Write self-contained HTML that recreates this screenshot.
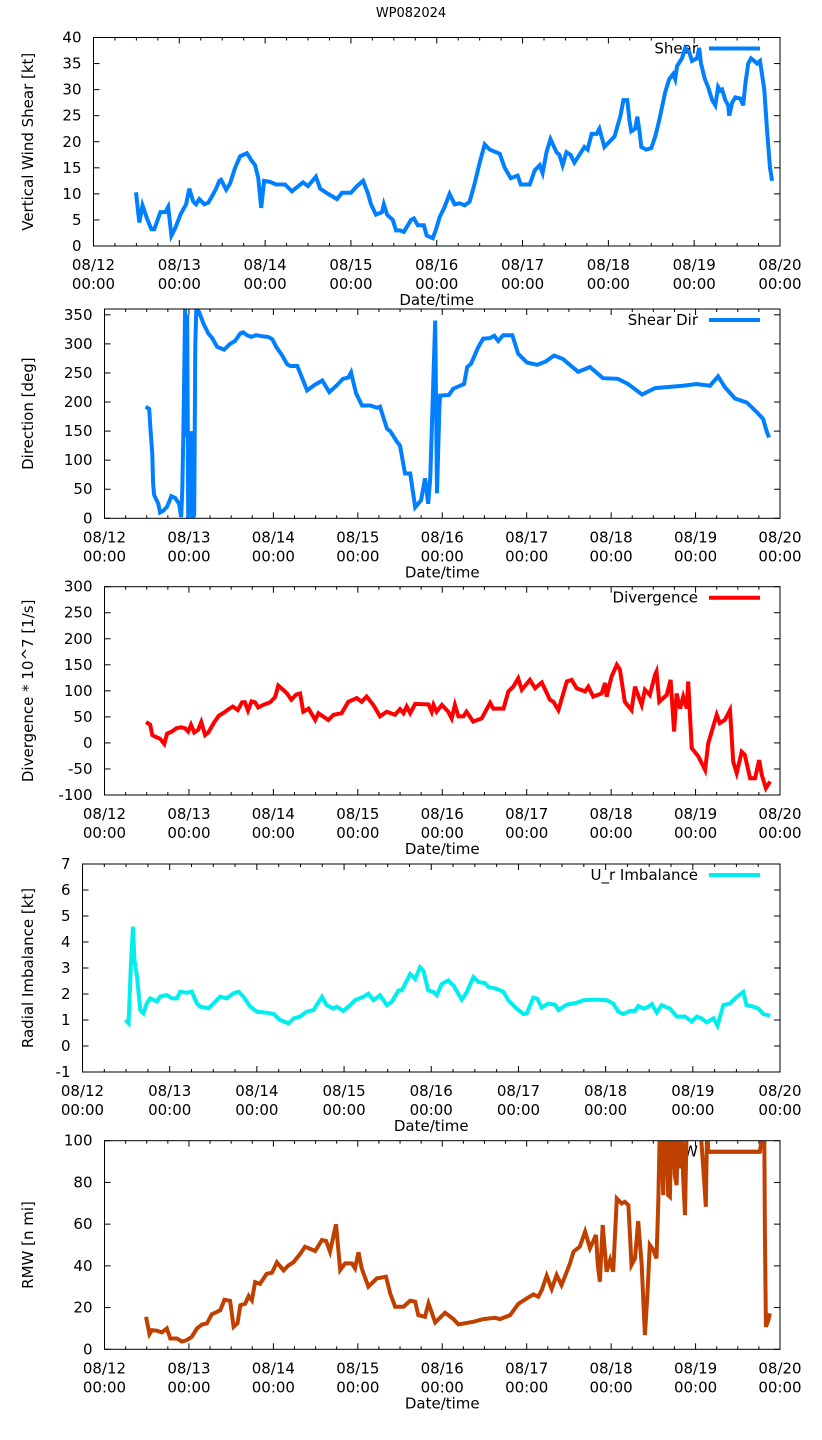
<!DOCTYPE html>
<html><head><meta charset="utf-8"><title>WP082024</title>
<style>
html,body{margin:0;padding:0;background:#fff;}
svg{display:block;font-family:"DejaVu Sans","Liberation Sans",sans-serif;}
</style></head>
<body>
<svg id="chart" width="822" height="1440" viewBox="0 0 822 1440" xmlns="http://www.w3.org/2000/svg">
<text x="411" y="17" text-anchor="middle" font-size="13" fill="#000">WP082024</text>
</svg>
<script>
// ---- shared x axis (hours since 08/12 00:00) ----
const xTickLabels = ["08/12","08/13","08/14","08/15","08/16","08/17","08/18","08/19","08/20"];

// ---- Panel 1: Shear ----
const shearHours = [11.9,12.8,13.7,15.1,16.2,17.0,18.7,20.1,20.9,21.8,22.9,24.3,25.9,26.8,27.9,28.7,29.6,31.0,32.1,33.5,34.3,35.2,35.7,37.1,38.2,39.6,41.0,42.9,44.1,45.2,46.1,46.9,47.7,49.4,51.1,53.6,55.5,58.6,60.0,62.2,63.4,65.6,68.1,69.5,72.0,73.7,75.4,76.8,77.6,79.0,80.7,81.2,82.1,82.9,83.7,84.6,85.7,86.8,88.8,89.6,90.7,92.4,93.2,94.9,95.7,96.8,98.2,99.6,101.0,102.4,103.8,105.2,106.6,108.0,109.4,110.8,113.6,115.0,116.7,118.6,119.5,122.0,123.4,124.8,125.6,126.7,127.8,129.5,130.3,131.2,132.3,133.4,134.5,135.9,137.3,138.2,139.3,140.7,141.5,142.9,144.3,145.7,147.4,148.2,149.3,149.9,150.4,151.5,152.1,152.7,153.2,154.6,156.0,157.1,158.2,158.8,159.9,161.0,162.1,162.7,163.2,164.6,165.5,166.6,167.4,168.8,169.4,169.9,171.0,171.9,173.0,173.9,174.7,175.3,175.8,176.7,177.5,177.8,178.6,179.5,180.9,181.7,182.3,183.1,183.9,184.8,185.6,186.4,187.6,188.4,189.2,189.8];
const shearValues = [10.3,4.5,7.8,5,3.2,3.2,6.5,6.5,7.5,2,3.5,6,8,11,8.5,8,9,8,8.3,10,11,12.5,12.7,10.8,12,15,17.2,17.8,16.5,15.5,13,7.3,12.5,12.3,11.8,11.8,10.5,12.2,11.5,13.3,11,10,9,10.2,10.2,11.5,12.5,10,8,6,6.5,8,6,5.5,5,3,3,2.7,5,5.3,4,4,2,1.5,3,5.5,7.5,10,8,8.2,7.8,8.5,12,16,19.5,18.5,17.7,15,13,13.5,11.8,11.8,14.5,15.5,14,18,20.5,18,17.5,15.5,18,17.5,16,17.5,19,18.5,21.5,21.5,22.5,19,20,21,25,28,28,24,22,22.5,24.8,22,19,18.5,18.8,21,24,26,29.5,32,33,32,34.5,36,38,37.2,35.5,36,38,35,32,30.5,28,27,30.5,29.8,30,28,27,25,27.5,28.5,28.3,27,31,35,36,35.5,35,35.5,30,22,15,12.5];
const shearTicks = [0,5,10,15,20,25,30,35,40];

// ---- Panel 2: Shear direction ----
const dirHours = [11.7,12.7,13.1,13.6,13.8,14.1,15.3,15.8,16.7,17.8,19.0,20.1,21.2,21.8,22.1,22.4,22.6,22.9,23.2,23.5,23.8,24.4,24.6,24.9,25.5,25.8,26.1,26.9,28.1,29.5,30.6,32.0,34.0,35.7,37.1,38.6,39.4,40.5,41.7,43.1,44.8,46.5,47.7,48.8,50.5,51.9,52.8,54.8,55.6,57.6,59.9,61.9,63.9,65.9,67.8,69.3,70.1,70.7,71.5,73.2,75.5,77.5,78.3,80.3,81.2,83.2,84.0,85.4,86.9,88.3,90.0,91.1,92.0,92.6,94.0,94.5,95.2,95.4,97.9,99.1,101.1,102.2,103.1,104.2,106.2,107.6,109.6,110.8,111.9,113.3,115.9,117.6,120.1,123.0,125.5,127.8,130.3,134.6,138.0,141.7,145.9,148.8,152.8,156.5,164.5,168.2,172.1,174.4,176.4,179.2,182.6,185.5,187.2,188.3,188.9];
const dirValues = [192,188,150,110,60,40,25,10,13,20,38,35,25,2,50,140,220,360,140,350,5,8,150,0,5,300,360,355,335,318,310,295,290,300,305,318,320,315,312,315,313,312,308,295,280,265,262,262,250,220,230,237,217,228,240,242,251,235,215,194,194,190,192,154,150,131,125,77,77,19,31,69,25,71,340,43,191,211,212,223,228,231,260,266,294,309,310,314,305,315,315,283,268,264,270,280,274,252,260,241,240,231,213,224,228,231,228,244,225,206,199,182,171,148,139];
const dirTicks = [0,50,100,150,200,250,300,350];

// ---- Panel 3: Divergence ----
const divHours = [11.8,13.0,13.6,14.4,15.8,17.0,17.8,19.2,20.4,21.8,22.9,23.8,24.6,25.5,26.6,27.5,28.6,29.5,31.2,32.5,33.9,35.3,36.5,37.9,39.1,39.9,40.8,41.8,42.8,43.7,45.1,47.1,48.5,49.4,50.8,51.9,53.1,54.5,55.6,56.5,58.0,59.9,60.8,63.6,65.1,67.4,69.3,71.7,73.1,74.5,76.4,78.3,80.2,82.6,84.0,85.0,85.9,86.9,88.3,92.1,93.0,93.5,94.4,95.9,97.7,98.7,99.6,100.6,102.0,102.9,104.8,107.2,109.6,110.5,113.4,114.8,116.2,117.6,118.6,120.9,122.4,124.3,126.6,127.6,129.0,131.4,132.8,134.2,136.6,137.5,138.9,141.3,142.3,142.7,144.1,145.6,146.5,147.9,149.8,150.8,152.7,153.6,155.0,156.5,156.9,157.7,159.8,160.9,161.9,162.6,163.6,164.5,165.5,165.9,166.9,168.8,170.7,171.6,174.0,174.9,176.3,177.8,178.7,179.7,181.1,182.0,183.5,184.9,186.1,186.8,188.0,189.2];
const divValues = [40,35,15,12,8,-2,18,22,28,30,28,22,35,20,25,40,15,20,40,52,58,65,70,63,78,78,62,80,78,68,73,78,88,110,102,95,83,93,95,60,66,44,57,44,54,57,79,86,79,89,73,51,60,54,65,57,70,57,75,74,60,73,60,73,60,47,73,51,51,60,41,47,77,66,66,99,108,124,102,121,105,116,83,79,63,118,121,105,99,108,89,95,115,89,127,150,141,79,63,108,73,102,92,131,137,79,92,121,22,95,66,89,66,118,-10,-26,-52,-1,54,38,44,63,-36,-58,-17,-23,-68,-68,-33,-61,-87,-74];
const divTicks = [-100,-50,0,50,100,150,200,250,300];

// ---- Panel 4: U_r imbalance ----
const urHours = [11.8,12.7,13.3,13.9,14.3,15.0,15.9,16.8,17.7,18.6,20.5,21.4,23.2,24.6,26.0,26.9,28.7,30.1,31.5,32.4,34.7,36.1,37.9,39.7,41.6,43.0,44.3,46.2,48.0,50.7,52.6,54.4,56.7,58.1,59.9,61.7,63.6,65.9,67.2,69.1,70.0,71.8,73.7,75.0,77.3,78.7,80.1,81.9,83.8,85.1,87.0,87.9,90.2,91.6,92.9,93.8,95.2,96.6,97.5,98.9,100.7,102.1,104.4,105.8,107.6,109.0,110.8,111.7,114.0,115.9,117.2,119.5,121.4,122.3,124.1,125.2,126.4,128.2,130.1,131.0,133.3,136.0,137.9,140.2,142.5,144.3,146.1,147.5,148.9,150.7,152.1,153.0,154.4,155.8,156.7,158.1,159.4,161.7,163.6,165.9,167.7,169.1,170.4,171.8,173.7,174.8,176.4,178.2,180.1,181.9,182.8,184.7,186.0,187.4,189.3];
const urValues = [1.0,0.87,3.05,4.59,3.31,2.67,1.38,1.26,1.64,1.83,1.71,1.9,1.96,1.83,1.83,2.09,2.05,2.09,1.64,1.51,1.45,1.64,1.9,1.83,2.03,2.09,1.9,1.51,1.32,1.28,1.23,1.0,0.87,1.06,1.13,1.32,1.38,1.89,1.57,1.44,1.51,1.35,1.57,1.76,1.89,2.01,1.76,1.95,1.57,1.70,2.14,2.14,2.77,2.58,3.03,2.9,2.14,2.08,1.95,2.39,2.52,2.33,1.78,2.08,2.65,2.46,2.42,2.27,2.2,2.08,1.76,1.44,1.23,1.25,1.86,1.82,1.48,1.63,1.59,1.38,1.59,1.66,1.76,1.78,1.78,1.76,1.63,1.32,1.23,1.35,1.35,1.54,1.44,1.51,1.61,1.28,1.57,1.44,1.13,1.13,0.94,1.13,1.06,0.91,1.06,0.78,1.57,1.63,1.89,2.08,1.57,1.51,1.44,1.23,1.16];
const urTicks = [-1,0,1,2,3,4,5,6,7];

// ---- Panel 5: RMW ----
const rmwHours = [11.8,12.8,13.5,14.9,16.3,17.7,18.7,20.6,22.0,23.4,24.8,26.3,27.7,29.1,30.5,32.9,34.1,35.7,36.7,37.8,38.6,40.0,41.0,41.9,42.8,44.2,46.1,47.6,49.0,50.9,52.3,53.7,55.6,57.0,59.9,61.8,63.0,64.1,65.8,67.0,68.4,70.3,71.2,72.2,73.1,75.0,77.4,80.0,81.2,82.6,85.0,86.9,88.3,89.2,91.1,92.1,94.0,96.8,99.2,100.6,104.8,107.7,111.0,112.4,115.3,117.6,120.0,121.9,123.3,124.3,125.7,127.1,128.5,129.9,131.4,132.3,133.3,135.1,136.6,138.0,139.7,140.2,140.8,141.6,142.7,143.7,144.6,145.6,147.0,147.9,148.9,149.8,150.8,151.7,152.7,153.6,154.3,155.0,156.0,156.9,157.4,157.9,158.3,158.8,159.3,159.8,160.2,160.7,161.2,161.7,162.1,162.6,163.1,163.6,164.0,164.5,165.0,165.5,165.9,169.2,170.2,170.7,170.9,171.3,171.6,186.3,187.5,187.7,188.0,188.7,189.1];
const rmwValues = [15.6,7.3,9.2,8.9,8.1,10,5.2,5.2,3.7,4.4,6,10,11.9,12.4,16.8,18.7,23.8,23.2,10.8,12.4,21.1,21.9,25.6,23.5,32.2,31.4,36.2,36.7,41.7,37.8,40.2,41.7,45.7,49.2,47.1,52.4,51.9,46.8,59.9,38,41.2,41.2,38.8,46.5,38.8,30,34,34.8,26.8,20.4,20.4,23.3,22.8,16.4,15.6,22,12.9,17.5,14.5,11.9,13.2,14.5,15.1,14.5,16.4,21.7,24.4,26.3,25.2,28.4,35.3,28.9,35.6,30.8,37.2,41.2,46.8,49.2,56.4,48.4,54.8,40.4,32.4,59.6,37.2,42.8,37.2,72.3,69.9,70.7,69.1,40.4,43.6,61.5,40.4,6.8,26,50,47.6,43.6,70.7,110,110,73.9,110,110,73.9,73.1,110,110,83.5,78.7,110,86.7,110,81.9,64.3,110,110,110,86.7,73.9,68.3,110,94.7,94.7,110,56.4,10.8,14,17.2];
const rmwTicks = [0,20,40,60,80,100];

const NS = "http://www.w3.org/2000/svg";
const svg = document.getElementById("chart");
function mk(tag, attrs, parent) {
  const e = document.createElementNS(NS, tag);
  for (const k in attrs) e.setAttribute(k, attrs[k]);
  (parent || svg).appendChild(e);
  return e;
}

function drawPanel(cfg, hours, values, ticks) {
  const L = cfg.L, R = 780, T = cfg.T, B = cfg.B;
  const xS = h => L + (h / 192) * (R - L);
  const yS = v => B - (v - cfg.ymin) / (cfg.ymax - cfg.ymin) * (B - T);
  const g = mk("g", {});
  
  

  const cp = mk("clipPath", {id: "clip-" + cfg.name}, g);
  mk("rect", {x: L, y: T, width: R - L, height: B - T}, cp);

  // ticks
  const tk = mk("g", {stroke: "#000", "stroke-width": 1}, g);
  
  
  for (let h = 0; h <= 192; h += 6) {
    const x = xS(h), len = (h % 24 === 0) ? 6 : 3;
    mk("line", {x1: x, y1: B, x2: x, y2: B - len}, tk);
    mk("line", {x1: x, y1: T, x2: x, y2: T + len}, tk);
  }
  ticks.forEach(v => {
    const y = yS(v);
    mk("line", {x1: L, y1: y, x2: L + 6, y2: y}, tk);
    mk("line", {x1: R, y1: y, x2: R - 6, y2: y}, tk);
  });

  // y tick labels
  ticks.forEach(v => {
    const t = mk("text", {x: L - 12, y: yS(v) + 5, "text-anchor": "end", "font-size": 15, fill: "#000"}, g);
    
    
    t.textContent = String(v);
  });
  // x tick labels
  xTickLabels.forEach((lab, i) => {
    const x = xS(i * 24);
    const t1 = mk("text", {x: x, y: B + 24, "text-anchor": "middle", "font-size": 15, fill: "#000"}, g);
    
    
    t1.textContent = lab;
    const t2 = mk("text", {x: x, y: B + 43, "text-anchor": "middle", "font-size": 15, fill: "#000"}, g);
    
    
    t2.textContent = "00:00";
  });
  // axis titles
  const xt = mk("text", {x: (L + R) / 2, y: B + 59, "text-anchor": "middle", "font-size": 15, fill: "#000"}, g);
  
  
  xt.textContent = "Date/time";
  const cy = (T + B) / 2;
  const yt = mk("text", {x: 33, y: cy, "text-anchor": "middle", "font-size": 15, fill: "#000", transform: "rotate(-90 33 " + cy + ")"}, g);
  
  
  yt.textContent = cfg.ylabel;

  // legend
  const lt = mk("text", {x: 698, y: T + 16, "text-anchor": "end", "font-size": 15, fill: "#000"}, g);
  
  
  lt.textContent = cfg.legend;
  const ll = mk("line", {x1: 709, y1: T + 11, x2: 760, y2: T + 11, stroke: cfg.color, "stroke-width": 4}, g);
  
  

  // series line
  const n = Math.min(hours.length, values.length);
  let d = "";
  for (let i = 0; i < n; i++) d += (i ? "L" : "M") + xS(hours[i]).toFixed(1) + "," + yS(values[i]).toFixed(1);
  const p = mk("path", {d: d, fill: "none", stroke: cfg.color, "stroke-width": 4, "stroke-linejoin": "miter", "clip-path": "url(#clip-" + cfg.name + ")"}, g);
  
  

  // frame
  const fr = mk("rect", {x: L, y: T, width: R - L, height: B - T, fill: "none", stroke: "#000", "stroke-width": 1}, g);
  
  
}

drawPanel({name: "shear", L: 93.5, T: 37.5, B: 246, ymin: 0, ymax: 40, ylabel: "Vertical Wind Shear [kt]", legend: "Shear", color: "#0080ff"}, shearHours, shearValues, shearTicks);
drawPanel({name: "shear-dir", L: 104.5, T: 309, B: 518.3, ymin: 0, ymax: 360, ylabel: "Direction [deg]", legend: "Shear Dir", color: "#0080ff"}, dirHours, dirValues, dirTicks);
drawPanel({name: "divergence", L: 104.5, T: 586.7, B: 795, ymin: -100, ymax: 300, ylabel: "Divergence * 10^7 [1/s]", legend: "Divergence", color: "#ff0000"}, divHours, divValues, divTicks);
drawPanel({name: "ur-imbalance", L: 82.5, T: 864, B: 1072, ymin: -1, ymax: 7, ylabel: "Radial Imbalance [kt]", legend: "U_r Imbalance", color: "#00eeee"}, urHours, urValues, urTicks);
drawPanel({name: "rmw", L: 104.5, T: 1140.7, B: 1349.3, ymin: 0, ymax: 100, ylabel: "RMW [n mi]", legend: "RMW", color: "#c04000"}, rmwHours, rmwValues, rmwTicks);
</script>
</body></html>
